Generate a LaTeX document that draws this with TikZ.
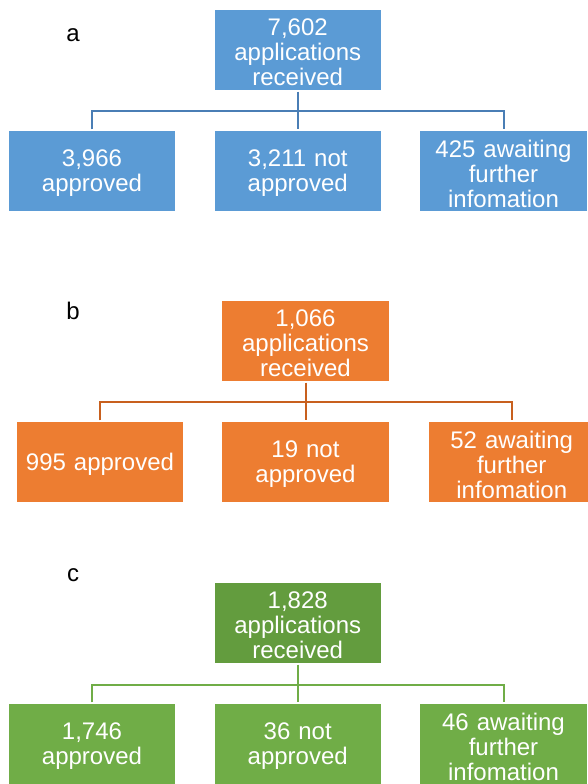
\documentclass[tikz,border=0pt]{standalone}
\usepackage{fontspec}
\setmainfont{Liberation Sans}
\definecolor{bluefill}{HTML}{5B9BD5}
\definecolor{blueline}{HTML}{4A7EB5}
\definecolor{orangefill}{HTML}{ED7D31}
\definecolor{orangeline}{HTML}{C8601E}
\definecolor{greentop}{HTML}{639C3E}
\definecolor{greenfill}{HTML}{70AD47}
\definecolor{greenline}{HTML}{70AD47}
\tikzset{
  box/.style={rectangle, minimum width=167.5pt, minimum height=82pt, inner sep=0pt,
    draw=white, line width=1.2pt,
    label={[boxtext]center:#1}},
  boxtext/.style={text width=162pt, align=center, font=\fontsize{24}{25}\selectfont,
    text=white, inner sep=0pt, yshift=-2.5pt},
  panellabel/.style={font=\fontsize{24}{25}\selectfont, text=black, inner sep=0pt},
  conn/.style={line width=2pt}
}
\begin{document}
\begin{tikzpicture}[x=1pt,y=-1pt]
\useasboundingbox (0,0) rectangle (587,784);
\fill[white] (0,0) rectangle (587,784);
% panel a
\node[panellabel] (la) at (73,35) {a};
\node[box={7,602\\applications\\received}, fill=bluefill] (a0) at (297.75,50) {};
\node[box={3,966\\approved}, fill=bluefill] (a1) at (92,171) {};
\node[box={3,211 not\\approved}, fill=bluefill] (a2) at (297.75,171) {};
\node[box={425 awaiting\\further\\infomation}, fill=bluefill] (a3) at (503.5,171) {};
\coordinate (ja) at (297.75,111);
\draw[conn, blueline] (a0.south) -- (a2.north);
\draw[conn, blueline] (a1.north) |- (ja) -| (a3.north);
% panel b
\node[panellabel] (lb) at (73,311) {b};
\node[box={1,066\\applications\\received}, fill=orangefill] (b0) at (305.5,341) {};
\node[box={995 approved}, fill=orangefill] (b1) at (100,462) {};
\node[box={19 not\\approved}, fill=orangefill] (b2) at (305.5,462) {};
\node[box={52 awaiting\\further\\infomation}, fill=orangefill] (b3) at (511.75,462) {};
\coordinate (jb) at (305.5,402);
\draw[conn, orangeline] (b0.south) -- (b2.north);
\draw[conn, orangeline] (b1.north) |- (jb) -| (b3.north);
% panel c
\node[panellabel] (lc) at (73,575) {c};
\node[box={1,828\\applications\\received}, fill=greentop] (c0) at (297.75,623) {};
\node[box={1,746\\approved}, fill=greenfill] (c1) at (92,744) {};
\node[box={36 not\\approved}, fill=greenfill] (c2) at (297.75,744) {};
\node[box={46 awaiting\\further\\infomation}, fill=greenfill] (c3) at (503.5,744) {};
\coordinate (jc) at (297.75,685);
\draw[conn, greenline] (c0.south) -- (c2.north);
\draw[conn, greenline] (c1.north) |- (jc) -| (c3.north);
\end{tikzpicture}
\end{document}
